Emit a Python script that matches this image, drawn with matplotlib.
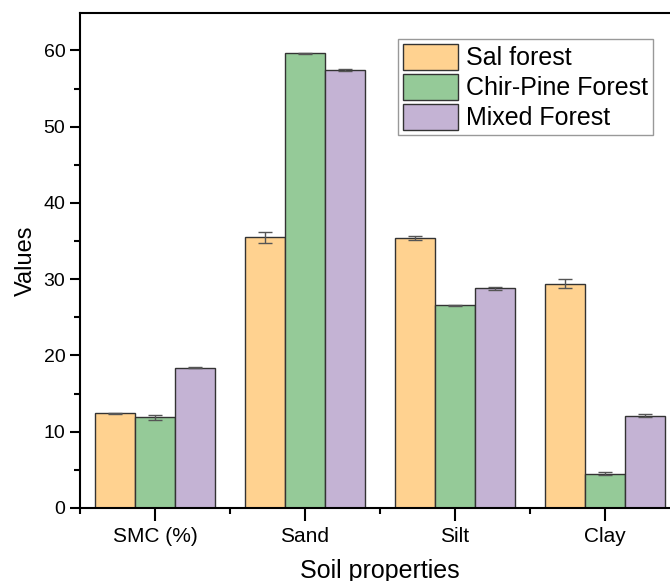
import numpy as np
import matplotlib.pyplot as plt
from matplotlib.ticker import MultipleLocator

plt.rcParams['font.family'] = ['Liberation Sans', 'DejaVu Sans']

categories = ['SMC (%)', 'Sand', 'Silt', 'Clay']
series = ['Sal forest', 'Chir-Pine Forest', 'Mixed Forest']
sal = [12.4, 35.5, 35.4, 29.4]
sal_err = [0.1, 0.7, 0.2, 0.6]
chir = [11.9, 59.6, 26.6, 4.5]
chir_err = [0.3, 0.1, 0.05, 0.2]
mixed = [18.4, 57.4, 28.8, 12.1]
mixed_err = [0.1, 0.1, 0.2, 0.2]
colors = ['#FFD290', '#95CA98', '#C4B3D4']

fig = plt.figure(figsize=(6.7, 5.81), dpi=100)
ax = fig.add_axes([80 / 670, 1 - 508 / 581, 600 / 670, 495 / 581])

x = np.arange(len(categories))
width = 0.8 / 3
data = [(sal, sal_err), (chir, chir_err), (mixed, mixed_err)]
for i, (vals, errs) in enumerate(data):
    ax.bar(x + (i - 1) * width, vals, width, yerr=errs, color=colors[i],
           edgecolor='#333333', linewidth=1.0, label=series[i],
           error_kw=dict(ecolor='#555555', elinewidth=1.0, capsize=5, capthick=1.0))

ax.set_xlim(-0.5, 3.5)
ax.set_ylim(0, 64.9)
ax.set_xticks(x)
ax.set_xticklabels(categories)
ax.set_xticks(np.arange(-0.5, 3.6, 1), minor=True)
ax.yaxis.set_major_locator(MultipleLocator(10))
ax.yaxis.set_minor_locator(MultipleLocator(5))

for s in ['left', 'bottom', 'top', 'right']:
    ax.spines[s].set_linewidth(1.5)
ax.tick_params(axis='both', which='major', direction='out', length=7, width=1.5, labelsize=14)
ax.tick_params(axis='both', which='minor', direction='out', length=4, width=1.5)
ax.tick_params(axis='x', which='major', length=9, pad=5, labelsize=15)

ax.set_ylabel('Values', fontsize=17, labelpad=5)
ax.set_xlabel('Soil properties', fontsize=18, labelpad=9)

leg = ax.legend(loc='upper left', bbox_to_anchor=(318 / 600, 1 - 26 / 495), fontsize=18,
                handlelength=2.2, handleheight=1.2, labelspacing=0.15,
                handletextpad=0.3, borderpad=0.2, borderaxespad=0,
                fancybox=False, framealpha=1)
leg.get_frame().set_edgecolor('#999999')
leg.get_frame().set_linewidth(1.0)

fig.savefig('out.png', dpi=100)
